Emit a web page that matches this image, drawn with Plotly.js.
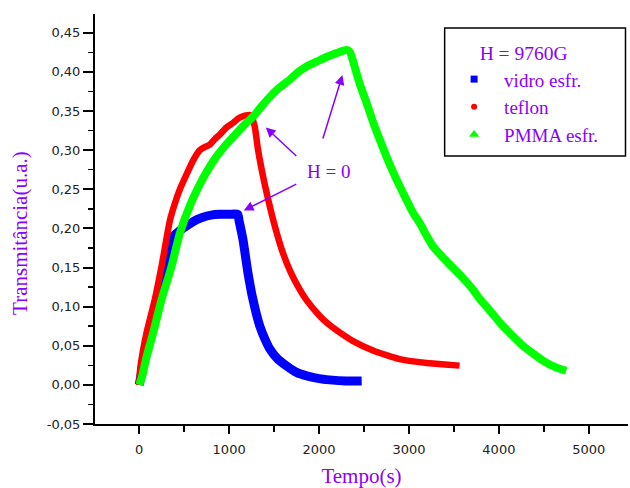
<!DOCTYPE html>
<html>
<head>
<meta charset="utf-8">
<script src="https://cdn.plot.ly/plotly-3.0.1.min.js"></script>
<style>html,body{margin:0;padding:0;background:#fff;}#chart{width:630px;height:488px;}</style>
</head>
<body>
<div id="chart"></div>
<script>
// vidro esfr. (blue)
const vidroT = [0, 50, 119, 211, 270, 320, 380, 450, 550, 637, 700, 800, 900, 1000, 1095, 1110, 1153, 1208, 1263, 1341, 1400, 1452, 1540, 1641, 1750, 1863, 2000, 2119, 2300, 2474];
const vidroV = [0, 0.03, 0.067, 0.1095, 0.145, 0.176, 0.19, 0.197, 0.205, 0.211, 0.214, 0.217, 0.218, 0.218, 0.218, 0.21, 0.186, 0.144, 0.11, 0.075, 0.058, 0.046, 0.033, 0.024, 0.016, 0.0115, 0.008, 0.0064, 0.005, 0.005];
// teflon (red)
const teflonT = [0, 10, 82, 174, 249, 300, 341, 397, 452, 530, 600, 674, 730, 785, 840, 897, 970, 1045, 1110, 1174, 1230, 1255, 1285, 1322, 1378, 1434, 1508, 1597, 1680, 1770, 1863, 2008, 2100, 2193, 2378, 2600, 2750, 2896, 3050, 3196, 3400, 3563];
const teflonV = [0, 0.02, 0.067, 0.1095, 0.152, 0.185, 0.21, 0.232, 0.25, 0.27, 0.287, 0.30, 0.304, 0.307, 0.314, 0.32, 0.329, 0.335, 0.341, 0.344, 0.345, 0.341, 0.33, 0.30, 0.266, 0.237, 0.203, 0.169, 0.145, 0.125, 0.108, 0.088, 0.078, 0.07, 0.056, 0.044, 0.038, 0.033, 0.03, 0.028, 0.026, 0.0246];
// PMMA esfr. (green)
const pmmaT = [0, 30, 80, 156, 249, 360, 452, 574, 700, 780, 860, 950, 1045, 1150, 1267, 1360, 1452, 1560, 1674, 1760, 1860, 1971, 2082, 2193, 2304, 2341, 2400, 2452, 2530, 2603, 2680, 2749, 2820, 2897, 2970, 3045, 3119, 3190, 3267, 3360, 3452, 3580, 3711, 3786, 3900, 4008, 4140, 4267, 4380, 4489, 4620, 4749];
const pmmaV = [0, 0.01, 0.035, 0.067, 0.1095, 0.152, 0.194, 0.232, 0.262, 0.278, 0.292, 0.305, 0.317, 0.33, 0.343, 0.356, 0.368, 0.38, 0.39, 0.399, 0.407, 0.413, 0.419, 0.424, 0.428, 0.426, 0.405, 0.385, 0.36, 0.335, 0.312, 0.292, 0.273, 0.254, 0.237, 0.22, 0.207, 0.192, 0.177, 0.165, 0.154, 0.139, 0.122, 0.11, 0.095, 0.08, 0.064, 0.05, 0.04, 0.031, 0.023, 0.018];

const seriesNames = ['vidro esfr.', 'teflon', 'PMMA esfr.'];
const yTickVals = [-0.05, 0, 0.05, 0.10, 0.15, 0.20, 0.25, 0.30, 0.35, 0.40, 0.45];
const yTickText = ['-0,05', '0,00', '0,05', '0,10', '0,15', '0,20', '0,25', '0,30', '0,35', '0,40', '0,45'];
const xTickVals = [0, 1000, 2000, 3000, 4000, 5000];
const xTickText = ['0', '1000', '2000', '3000', '4000', '5000'];

const purple = '#8a00ff';
const serif = 'Liberation Serif, Times New Roman, serif';
const sans = 'DejaVu Sans, sans-serif';
const xr = [-492, 5436];
const yr = [-0.05, 0.474];

const traces = [
  {x: vidroT, y: vidroV, mode: 'lines', line: {color: '#0000ff', width: 9, shape: 'spline', smoothing: 0.6}, showlegend: false, hoverinfo: 'skip'},
  {x: teflonT, y: teflonV, mode: 'lines', line: {color: '#ff0000', width: 6.5, shape: 'spline', smoothing: 0.6}, showlegend: false, hoverinfo: 'skip'},
  {x: pmmaT, y: pmmaV, mode: 'lines', line: {color: '#00ff00', width: 8, shape: 'spline', smoothing: 0.6}, showlegend: false, hoverinfo: 'skip'},
  {x: [null], y: [null], name: seriesNames[0], mode: 'markers', marker: {symbol: 'square', size: 7, color: '#0000ff'}},
  {x: [null], y: [null], name: seriesNames[1], mode: 'markers', marker: {symbol: 'circle', size: 6, color: '#ff0000'}},
  {x: [null], y: [null], name: seriesNames[2], mode: 'markers', marker: {symbol: 'triangle-up', size: 9, color: '#00ff00'}}
];

const layout = {
  width: 630, height: 488,
  margin: {l: 95, r: 2, t: 14, b: 64},
  paper_bgcolor: '#fff', plot_bgcolor: '#fff',
  showlegend: true,
  legend: {
    x: 0.655, y: 0.949, xanchor: 'left', yanchor: 'top',
    borderwidth: 0, bgcolor: 'rgba(0,0,0,0)',
    font: {family: serif, size: 19, color: purple},
    title: {text: 'H = 9760G', side: 'top center', font: {family: serif, size: 19.5, color: purple}},
    itemwidth: 50, tracegroupgap: 0
  },
  shapes: [
    {type: 'rect', xref: 'paper', yref: 'paper', x0: 0.656, x1: 0.9953, y0: 0.6537, y1: 0.9659, line: {color: '#000', width: 1.5}, fillcolor: 'rgba(0,0,0,0)'}
  ],
  xaxis: {
    range: xr, showgrid: false, zeroline: false,
    showline: true, linecolor: '#000', linewidth: 2,
    ticks: 'outside', ticklen: 8, tickwidth: 2, tickcolor: '#000',
    tickvals: xTickVals, ticktext: xTickText, ticklabelstandoff: 4,
    tickfont: {family: sans, size: 13, color: '#222'},
    minor: {dtick: 500, tick0: 0, ticks: 'outside', ticklen: 6, tickwidth: 2, tickcolor: '#000', showgrid: false},
    title: {text: 'Tempo(s)', font: {family: serif, size: 21, color: purple}, standoff: 17}
  },
  yaxis: {
    range: yr, showgrid: false, zeroline: false,
    showline: true, linecolor: '#000', linewidth: 2,
    ticks: 'outside', ticklen: 10, tickwidth: 2, tickcolor: '#000',
    tickvals: yTickVals, ticktext: yTickText,
    tickfont: {family: sans, size: 13, color: '#222'},
    minor: {dtick: 0.025, tick0: 0, ticks: 'outside', ticklen: 5, tickwidth: 1.5, tickcolor: '#000', showgrid: false}
  },
  xaxis2: {
    overlaying: 'x', side: 'top', anchor: 'y', range: xr, showgrid: false, zeroline: false,
    showline: true, linecolor: '#000', linewidth: 2,
    ticks: 'inside', ticklen: 8, tickwidth: 2, tickcolor: '#000', tickvals: xTickVals, showticklabels: false,
    minor: {dtick: 500, tick0: 0, ticks: 'inside', ticklen: 6, tickwidth: 2, tickcolor: '#000'}
  },
  yaxis2: {
    overlaying: 'y', side: 'right', anchor: 'x', range: yr, showgrid: false, zeroline: false,
    showline: true, linecolor: '#000', linewidth: 2,
    ticks: 'inside', ticklen: 6, tickwidth: 2, tickcolor: '#000', tickvals: yTickVals, showticklabels: false,
    minor: {dtick: 0.025, tick0: 0, ticks: 'inside', ticklen: 3, tickwidth: 1.5, tickcolor: '#000'}
  },
  annotations: [
    {x: -0.1407, y: 0.466, xref: 'paper', yref: 'paper', text: 'Transmitância(u.a.)', textangle: -90, showarrow: false, xanchor: 'center', yanchor: 'middle', font: {family: serif, size: 21, color: purple}},
    {x: 2260, y: 0.396, xref: 'x', yref: 'y', ax: -20, ay: 65, text: '', showarrow: true, arrowhead: 2, arrowsize: 1.3, arrowwidth: 1.5, arrowcolor: purple},
    {x: 1408, y: 0.329, xref: 'x', yref: 'y', ax: 32, ay: 30, text: '', showarrow: true, arrowhead: 2, arrowsize: 1.3, arrowwidth: 1.5, arrowcolor: purple},
    {x: 1163, y: 0.223, xref: 'x', yref: 'y', ax: 54, ay: -27, text: '', showarrow: true, arrowhead: 2, arrowsize: 1.3, arrowwidth: 1.5, arrowcolor: purple},
    {x: 2110, y: 0.273, xref: 'x', yref: 'y', text: 'H = 0', showarrow: false, font: {family: serif, size: 19, color: purple}}
  ]
};

Plotly.newPlot('chart', traces, layout, {staticPlot: true, displayModeBar: false});
</script>
</body>
</html>
